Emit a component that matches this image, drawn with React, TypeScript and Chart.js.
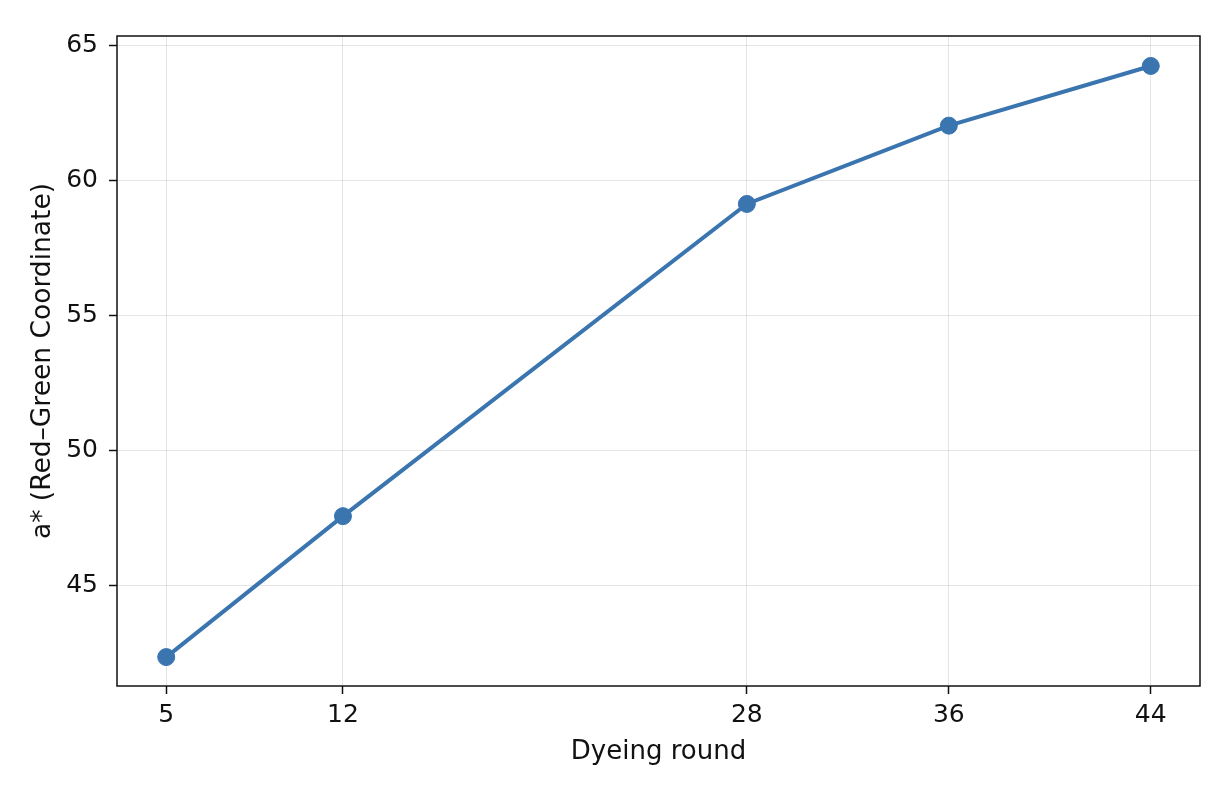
import { useEffect, useRef } from "react"
import { Chart, registerables, type ChartConfiguration, type Plugin } from "chart.js"

Chart.register(...registerables)

const rounds = [5, 12, 28, 36, 44]
const aStar = [42.35, 47.57, 59.13, 62.03, 64.24]
const xTicks = [5, 12, 28, 36, 44]
const yTicks = [45, 50, 55, 60, 65]

const lineColor = "#3a75b0"
const fontFamily = "'DejaVu Sans', sans-serif"

// matplotlib-like box around the plot area
const frame: Plugin<"line"> = {
  id: "frame",
  afterDraw(chart) {
    const { ctx, chartArea } = chart
    ctx.save()
    ctx.strokeStyle = "#111"
    ctx.lineWidth = 1.5
    ctx.strokeRect(chartArea.left, chartArea.top, chartArea.right - chartArea.left, chartArea.bottom - chartArea.top)
    ctx.restore()
  },
}

export default function App() {
  const chartRef = useRef<HTMLCanvasElement>(null)
  const chartInstance = useRef<Chart | null>(null)

  useEffect(() => {
    document.body.style.margin = "0"
    if (!chartRef.current) return
    const ctx = chartRef.current.getContext("2d")
    if (!ctx) return

    if (chartInstance.current) {
      chartInstance.current.destroy()
    }

    const config: ChartConfiguration<"line"> = {
      type: "line",
      data: {
        datasets: [
          {
            label: "a*",
            data: rounds.map((r, i) => ({ x: r, y: aStar[i] })),
            borderColor: lineColor,
            backgroundColor: lineColor,
            borderWidth: 4,
            pointRadius: 8.5,
            pointBorderWidth: 1,
            pointBorderColor: lineColor,
            pointBackgroundColor: lineColor,
            tension: 0,
            fill: false,
          },
        ],
      },
      options: {
        animation: false,
        responsive: true,
        maintainAspectRatio: false,
        layout: { padding: { top: 36, right: 24, left: 0, bottom: 0 } },
        scales: {
          x: {
            type: "linear",
            min: 3.05,
            max: 45.95,
            afterBuildTicks: (scale) => {
              scale.ticks = xTicks.map((v) => ({ value: v }))
            },
            afterFit: (scale) => {
              scale.height = 100
            },
            grid: {
              color: "rgba(0, 0, 0, 0.1)",
              lineWidth: 1,
              drawTicks: true,
              tickLength: 8,
              tickColor: "#111",
              tickWidth: 1.5,
            },
            border: { display: false },
            ticks: {
              color: "#111",
              padding: 6,
              font: { family: fontFamily, size: 25 },
              callback: (v) => String(v),
            },
            title: {
              display: true,
              text: "Dyeing round",
              color: "#111",
              font: { family: fontFamily, size: 26 },
              padding: { top: 0, bottom: 18 },
            },
          },
          y: {
            type: "linear",
            min: 41.28,
            max: 65.35,
            afterBuildTicks: (scale) => {
              scale.ticks = yTicks.map((v) => ({ value: v }))
            },
            afterFit: (scale) => {
              scale.width = 117
            },
            grid: {
              color: "rgba(0, 0, 0, 0.1)",
              lineWidth: 1,
              drawTicks: true,
              tickLength: 8,
              tickColor: "#111",
              tickWidth: 1.5,
            },
            border: { display: false },
            ticks: {
              color: "#111",
              padding: 11,
              font: { family: fontFamily, size: 25 },
              callback: (v) => String(v),
            },
            title: {
              display: true,
              text: "a* (Red–Green Coordinate)",
              color: "#111",
              font: { family: fontFamily, size: 26.5 },
              padding: { top: 27, bottom: 0 },
            },
          },
        },
        plugins: {
          legend: { display: false },
          tooltip: { enabled: false },
        },
      },
      plugins: [frame],
    }

    chartInstance.current = new Chart(ctx, config)

    return () => {
      if (chartInstance.current) {
        chartInstance.current.destroy()
        chartInstance.current = null
      }
    }
  }, [])

  return (
    <div style={{ position: "relative", width: 1224, height: 786, background: "#fff" }}>
      <canvas ref={chartRef} />
    </div>
  )
}
